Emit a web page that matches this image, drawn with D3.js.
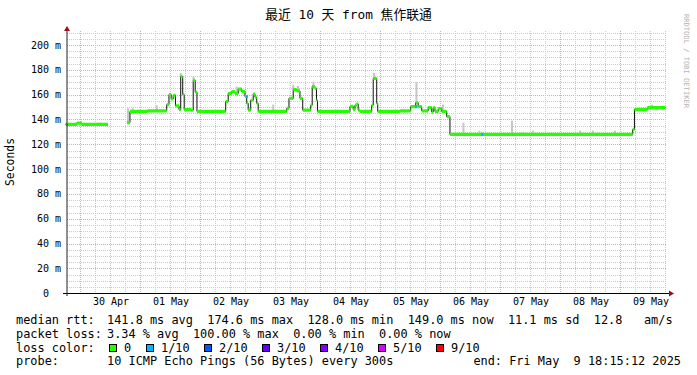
<!DOCTYPE html>
<html>
<head>
<meta charset="utf-8">
<script src="https://cdn.jsdelivr.net/npm/d3@7"></script>
<style>
body { margin: 0; background: #fff; }
svg { display: block; }
text { font-family: "DejaVu Sans Mono", "Noto Sans CJK SC", monospace; white-space: pre; }
</style>
</head>
<body>
<svg id="chart" width="697" height="375"></svg>
<script>
// smokeping style graph, 10 days

var title = "最近 10 天 from 焦作联通";
var unitLabel = "Seconds";
var watermark = "RRDTOOL / TOBI OETIKER";
var dayLabels = ["30 Apr", "01 May", "02 May", "03 May", "04 May", "05 May", "06 May", "07 May", "08 May", "09 May"];
var yTicks = [0, 20, 40, 60, 80, 100, 120, 140, 160, 180, 200];

// median rtt, hours since 30 Apr 00:00 -> ms (step values, null = no data)
var medianHours = [-5.75, -1.2, 0.8, 11.2, 18.8, 20.0, 27.0, 34.7, 35.6, 36.5, 37.3, 38.2, 39.6, 40.3, 41.1, 41.7,
    44.4, 45.3, 46.1, 46.8, 58.3, 59.3, 60.7, 62.0, 63.3, 64.7, 66.0, 66.7, 67.3, 68.3, 69.3, 70.0, 70.7, 71.3,
    82.7, 83.6, 85.3, 86.7, 88.0, 89.1, 92.3, 92.9, 94.0, 94.6, 95.0, 108.0, 109.3, 110.0, 110.7, 111.3, 112.0,
    116.7, 117.3, 118.7, 119.1, 128.0, 132.3, 134.3, 135.3, 136.7, 139.3, 140.7, 141.3, 142.0, 143.3, 144.7,
    146.7, 148.0, 221.1, 221.8, 227.0, 234.25];
var medianMs = [136, 137, 136, null, 137.5, 146.5, 147, 152, 160, 156.5, 159.5, 151, 148, 174.6, 160, 148,
    147.5, 171.5, 162, 146.5, 154.5, 161, 162.5, 161, 164.5, 162.5, 158.5, 153, 147.5, 155.5, 160.5, 158, 153, 146.5,
    149, 157, 164, 163, 157, 147.5, 151.5, 166.5, 165, 155.5, 146.5, 150.5, 148, 151.5, 152.5, 147.5, 146.5,
    151.5, 173, 153, 146.5, 147, 150.3, 153.5, 150.3, 147, 149.5, 146, 149.5, 146.5, 148.7, 146.5,
    142.3, 128.0, 132, 148.2, 149.5, 149.5];

// smoke spikes (top of ping spread)
var smokeHours = [-1.2, 8, 19.2, 21.2, 30.7, 40.3, 45.4, 62.7, 77.3, 85.3, 87.2, 93.4, 117.6, 134.6, 145.2,
    153.4, 159.8, 172.8, 176.7, 181.2, 200, 205.2, 214, 228.8];
var smokeTop = [138, 137.5, 149, 149, 151.5, 177.5, 174.5, 166.5, 152, 168, 167, 170.5, 177.5, 170, 152,
    137.5, 131, 139, 130, 131, 131, 131, 131, 152];

// intervals with packet loss (index into lossColors)
var lossHours = [66.4, 134.2, 160.5];
var lossLevel = [1, 1, 1];

var lossLabels = ["0", "1/10", "2/10", "3/10", "4/10", "5/10", "9/10"];
var lossColors = ["#26ff00", "#00b8ff", "#0059ff", "#5e00ff", "#7e00ff", "#dd00ff", "#ff0000"];

var rttStats = "141.8 ms avg  174.6 ms max  128.0 ms min  149.0 ms now  11.1 ms sd  12.8   am/s";
var lossStats = "3.34 % avg  100.00 % max  0.00 % min  0.00 % now";
var probeText = "10 ICMP Echo Pings (56 Bytes) every 300s";
var endText = "end: Fri May  9 18:15:12 2025";

var base = new Date(2025, 3, 30).getTime();
function hour2date(h) { return new Date(base + h * 3600e3); }

var start = hour2date(-5.7467), end = hour2date(234.2533);
var plotTop = 31, plotLeft = 67, plotRight = 666;

var svg = d3.select("#chart");
var x = d3.scaleTime().domain([start, end]).range([65.6, 665.6]);
var y = d3.scaleLinear().domain([0, 200]).range([293.3, 45]);

// grid
var grid = svg.append("g");
d3.range(5, 215, 5).forEach(v => {
    var py = Math.round(y(v)) + 0.5;
    if (py < plotTop) return;
    var major = v % 20 === 0;
    grid.append("line")
        .attr("x1", plotLeft).attr("x2", plotRight).attr("y1", py).attr("y2", py)
        .attr("stroke", major ? "#eca3a3" : "#cbcbcb")
        .attr("stroke-dasharray", "1,1");
});
d3.timeHour.every(6).range(start, end).forEach(d => {
    var px = Math.round(x(d)) + 0.5;
    if (px < plotLeft + 1) return;
    var major = d.getHours() === 0;
    grid.append("line")
        .attr("x1", px).attr("x2", px).attr("y1", plotTop).attr("y2", 293)
        .attr("stroke", major ? "#eca3a3" : "#cbcbcb")
        .attr("stroke-dasharray", "1,1");
});

// data points, steps extended up to a gap
var pts = [];
medianHours.forEach((h, i) => {
    var v = medianMs[i];
    if (v === null && i > 0 && medianMs[i - 1] !== null)
        pts.push({ t: hour2date(h), v: medianMs[i - 1] });
    pts.push({ t: hour2date(h), v: v });
});

function valueAt(h) {
    var v = null;
    medianHours.forEach((mh, i) => { if (mh <= h) v = medianMs[i]; });
    return v;
}

// smoke
var smoke = svg.append("g");
smokeHours.forEach((h, i) => {
    var m = valueAt(h);
    if (m === null) return;
    var x0 = x(hour2date(h - 0.4));
    smoke.append("rect")
        .attr("x", x0).attr("width", 2)
        .attr("y", y(smokeTop[i])).attr("height", Math.max(0, y(m) - y(smokeTop[i])))
        .attr("fill", "#c6c6c6");
});

// median line
var line = d3.line()
    .defined(d => d.v !== null)
    .curve(d3.curveStepAfter)
    .x(d => x(d.t)).y(d => y(d.v));
svg.append("path").datum(pts)
    .attr("d", line).attr("fill", "none")
    .attr("stroke", "#111").attr("stroke-width", 1);

// loss colored band
var band = d3.area()
    .defined(d => d.v !== null)
    .curve(d3.curveStepAfter)
    .x(d => x(d.t))
    .y0(d => y(d.v) + 1.6).y1(d => y(d.v) - 1.6);
svg.append("path").datum(pts)
    .attr("d", band).attr("fill", lossColors[0]);

lossHours.forEach((h, i) => {
    var m = valueAt(h);
    svg.append("rect")
        .attr("x", x(hour2date(h))).attr("width", x(hour2date(h + 0.8)) - x(hour2date(h)))
        .attr("y", y(m) - 1.6).attr("height", 3.2)
        .attr("fill", lossColors[lossLevel[i]]);
});

// axes
svg.append("line").attr("x1", 63).attr("x2", 669).attr("y1", 293.5).attr("y2", 293.5)
    .attr("stroke", "#000");
svg.append("line").attr("x1", 67).attr("x2", 67).attr("y1", 31).attr("y2", 296)
    .attr("stroke", "#222");
svg.append("path").attr("d", "M64,31 L67,26 L70,31 Z").attr("fill", "#9a1010");
svg.append("path").attr("d", "M669,290.5 L674,293.5 L669,296.5 Z").attr("fill", "#9a1010");

yTicks.forEach(v => {
    svg.append("text")
        .attr("x", v === 0 ? 49 : 61).attr("y", y(v) + 3.5)
        .attr("text-anchor", "end")
        .attr("font-size", "10px").attr("fill", "#000")
        .text(v === 0 ? "0" : v + " m");
});

dayLabels.forEach((lab, i) => {
    var noon = hour2date(12 + 24 * i);
    svg.append("text")
        .attr("x", x(noon) + 1).attr("y", 305)
        .attr("text-anchor", "middle")
        .attr("font-size", "10px").attr("fill", "#000")
        .text(lab);
});

// title, unit, watermark
svg.append("text").attr("x", 348.5).attr("y", 19)
    .attr("text-anchor", "middle").attr("font-size", "12.8px").attr("fill", "#000")
    .text(title);
svg.append("text").attr("transform", "translate(14,162) rotate(-90)")
    .attr("text-anchor", "middle").attr("font-size", "11.4px").attr("fill", "#000")
    .text(unitLabel);
svg.append("text").attr("transform", "translate(684,61) rotate(90)")
    .attr("text-anchor", "middle").attr("font-size", "7.1px").attr("fill", "#b4b4b4")
    .text(watermark);

// legend
var lg = svg.append("g").attr("font-size", "11.9px").attr("fill", "#000");
lg.append("text").attr("x", 16).attr("y", 324).text("median rtt:");
lg.append("text").attr("x", 107).attr("y", 324).text(rttStats);
lg.append("text").attr("x", 16).attr("y", 338).text("packet loss:");
lg.append("text").attr("x", 107).attr("y", 338).text(lossStats);
lg.append("text").attr("x", 16).attr("y", 352).text("loss color:");
var boxX = [109, 146, 204, 262, 320, 378, 436];
lossLabels.forEach((lab, i) => {
    lg.append("rect").attr("x", boxX[i] + 0.5).attr("y", 344.5).attr("width", 7).attr("height", 7)
        .attr("fill", lossColors[i]).attr("stroke", "#000");
    lg.append("text").attr("x", boxX[i] + 15).attr("y", 352).text(lab);
});
lg.append("text").attr("x", 16).attr("y", 365).text("probe:");
lg.append("text").attr("x", 107).attr("y", 365).text(probeText);
lg.append("text").attr("x", 681).attr("y", 365).attr("text-anchor", "end").text(endText);
</script>
</body>
</html>
